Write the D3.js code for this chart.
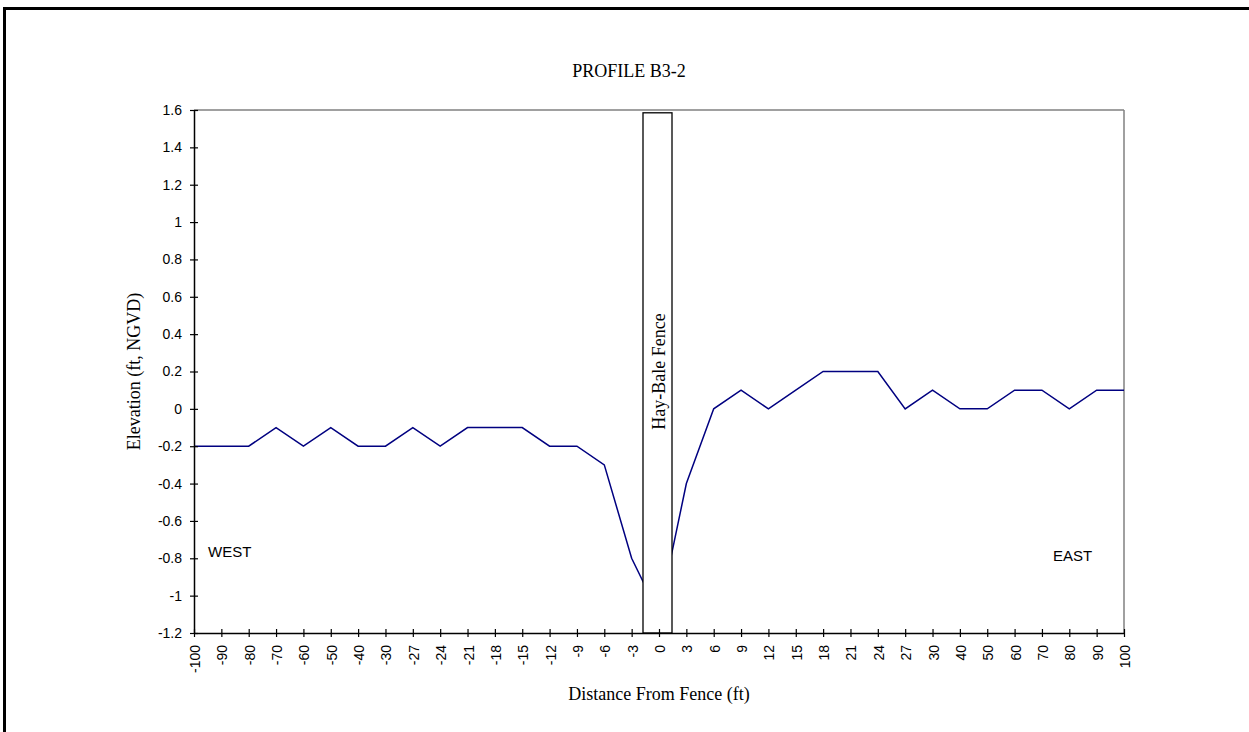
<!DOCTYPE html>
<html>
<head>
<meta charset="utf-8">
<script src="https://cdn.jsdelivr.net/npm/d3@7/dist/d3.min.js"></script>
<style>
html,body{margin:0;padding:0;background:#fff;}
svg{display:block;}
</style>
</head>
<body>
<svg id="chart" width="1249" height="732"></svg>
<script>
const categories = ["-100","-90","-80","-70","-60","-50","-40","-30","-27","-24","-21","-18","-15","-12","-9","-6","-3","0","3","6","9","12","15","18","21","24","27","30","40","50","60","70","80","90","100"];
const elevation = [-0.2,-0.2,-0.2,-0.1,-0.2,-0.1,-0.2,-0.2,-0.1,-0.2,-0.1,-0.1,-0.1,-0.2,-0.2,-0.3,-0.8,-1.1,-0.4,0,0.1,0,0.1,0.2,0.2,0.2,0,0.1,0,0,0.1,0.1,0,0.1,0.1];
const yTicks = [1.6,1.4,1.2,1,0.8,0.6,0.4,0.2,0,-0.2,-0.4,-0.6,-0.8,-1,-1.2];
const yTickLabels = ["1.6","1.4","1.2","1","0.8","0.6","0.4","0.2","0","-0.2","-0.4","-0.6","-0.8","-1","-1.2"];
const titleText = "PROFILE B3-2";
const xTitle = "Distance From Fence (ft)";
const yTitle = "Elevation (ft, NGVD)";
const fenceLabel = "Hay-Bale Fence";
const fenceTop = 1.585;

(function(){
const svg = d3.select("#chart");
const pL = 194, pR = 1124, pT = 110, pB = 633;
const x = d3.scalePoint().domain(categories).range([pL, pR]);
const y = d3.scaleLinear().domain([-1.2, 1.6]).range([pB, pT]);
const serif = "'Liberation Serif','Times New Roman',serif";
const sans = "'Liberation Sans',Arial,sans-serif";

// outer frame
svg.append("line").attr("x1",3).attr("x2",1249).attr("y1",8.5).attr("y2",8.5).attr("stroke","#000").attr("stroke-width",3);
svg.append("line").attr("x1",4.5).attr("x2",4.5).attr("y1",7).attr("y2",732).attr("stroke","#000").attr("stroke-width",3);

// plot area border (top/right gray)
svg.append("line").attr("x1",pL).attr("x2",pR).attr("y1",pT).attr("y2",pT).attr("stroke","#808080").attr("stroke-width",1.5);
svg.append("line").attr("x1",pR).attr("x2",pR).attr("y1",pT).attr("y2",pB).attr("stroke","#808080").attr("stroke-width",1.5);

// line
const line = d3.line().x((d,i)=>x(categories[i])).y(d=>y(d));
svg.append("path").datum(elevation).attr("d",line).attr("fill","none").attr("stroke","#000080").attr("stroke-width",1.5);

// fence box
const fx = x("0");
const fg = svg.append("g");
fg.append("rect").attr("x",fx-16).attr("y",y(fenceTop)).attr("width",29).attr("height",y(-1.2)-y(fenceTop))
  .attr("fill","#fff").attr("stroke","#000").attr("stroke-width",1.3);
fg.append("text").attr("transform",`translate(${fx+6},${(pT+pB)/2}) rotate(-90)`).attr("text-anchor","middle")
  .attr("font-family",serif).attr("font-size",18).attr("fill","#000").text(fenceLabel);

// Y axis
const yAxis = d3.axisLeft(y).tickValues(yTicks).tickFormat((d,i)=>yTickLabels[i]).tickSizeInner(4).tickSizeOuter(0).tickPadding(8);
const yg = svg.append("g").attr("transform",`translate(${pL},0)`).call(yAxis);
yg.select(".domain").attr("stroke","#000").attr("stroke-width",1.5);
yg.selectAll(".tick line").attr("x1",-4).attr("x2",4).attr("stroke","#000").attr("stroke-width",1.2);
yg.selectAll(".tick text").attr("font-family",sans).attr("font-size",14).attr("fill","#000");

// X axis
const xAxis = d3.axisBottom(x).tickSizeInner(4).tickSizeOuter(0);
const xg = svg.append("g").attr("transform",`translate(0,${pB})`).call(xAxis);
xg.select(".domain").attr("stroke","#000").attr("stroke-width",1.5);
xg.selectAll(".tick line").attr("y1",-4).attr("y2",4).attr("stroke","#000").attr("stroke-width",1.2);
xg.selectAll(".tick text").attr("font-family",sans).attr("font-size",14).attr("fill","#000")
  .attr("text-anchor","end").attr("dy",null).attr("y",null)
  .attr("transform","translate(5.5,12) rotate(-90)");

// titles
svg.append("text").attr("x",629).attr("y",77).attr("text-anchor","middle").attr("font-family",serif).attr("font-size",18).text(titleText);
svg.append("text").attr("x",(pL+pR)/2).attr("y",700).attr("text-anchor","middle").attr("font-family",serif).attr("font-size",18).text(xTitle);
svg.append("text").attr("transform",`translate(140,${(pT+pB)/2}) rotate(-90)`).attr("text-anchor","middle").attr("font-family",serif).attr("font-size",18).text(yTitle);

// side labels
svg.append("text").attr("x",208).attr("y",557).attr("font-family",sans).attr("font-size",15).text("WEST");
svg.append("text").attr("x",1053).attr("y",561).attr("font-family",sans).attr("font-size",15).text("EAST");
})();
</script>
</body>
</html>
